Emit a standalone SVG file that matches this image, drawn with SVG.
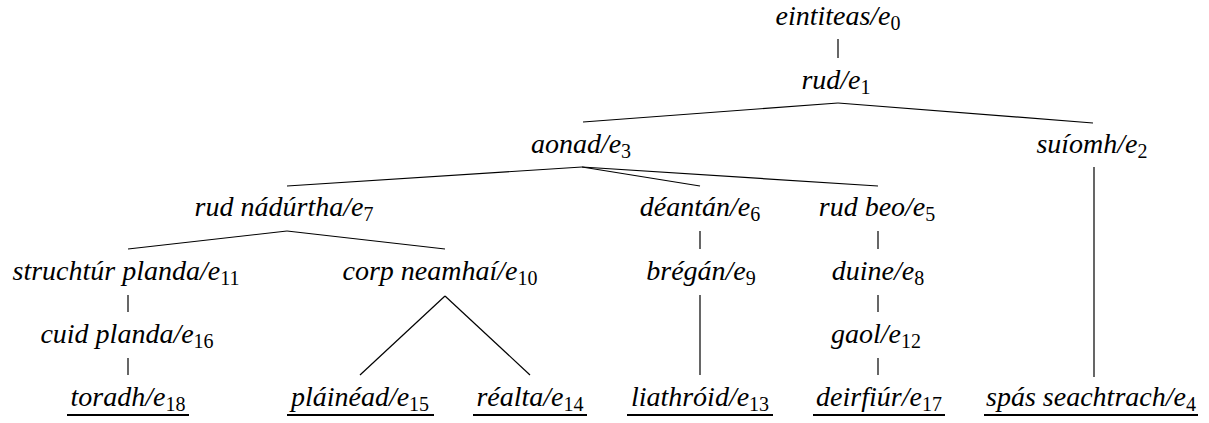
<svg xmlns="http://www.w3.org/2000/svg" width="1209" height="423" viewBox="0 0 1209 423">
<rect width="1209" height="423" fill="#fff"/>
<g id="connectors" stroke="#000" stroke-width="1.2">
<line x1="838" y1="39" x2="838" y2="58"/>
<line x1="838" y1="103" x2="583" y2="122"/>
<line x1="838" y1="103" x2="1093" y2="123"/>
<line x1="582" y1="167" x2="287" y2="186"/>
<line x1="582" y1="167" x2="700" y2="186"/>
<line x1="582" y1="167" x2="878" y2="186"/>
<line x1="1094" y1="167" x2="1094" y2="377"/>
<line x1="287" y1="231" x2="128" y2="249"/>
<line x1="287" y1="231" x2="445" y2="249"/>
<line x1="700" y1="231" x2="700" y2="249"/>
<line x1="878" y1="231" x2="878" y2="249"/>
<line x1="128" y1="295" x2="128" y2="312"/>
<line x1="445" y1="296" x2="360" y2="375"/>
<line x1="445" y1="296" x2="530" y2="375"/>
<line x1="700" y1="295" x2="700" y2="375"/>
<line x1="878" y1="295" x2="878" y2="312"/>
<line x1="128" y1="358" x2="128" y2="375"/>
<line x1="878" y1="358" x2="878" y2="375"/>
</g>
<g id="e0"><text font-family="'Liberation Serif', 'Times New Roman', serif" font-style="italic" font-size="28" text-anchor="middle" x="838" y="25">eintiteas/e<tspan font-style="normal" font-size="20" dy="5">0</tspan></text></g>
<g id="e1"><text font-family="'Liberation Serif', 'Times New Roman', serif" font-style="italic" font-size="28" text-anchor="middle" x="836" y="89">rud/e<tspan font-style="normal" font-size="20" dy="5">1</tspan></text></g>
<g id="e3"><text font-family="'Liberation Serif', 'Times New Roman', serif" font-style="italic" font-size="28" text-anchor="middle" x="581" y="153">aonad/e<tspan font-style="normal" font-size="20" dy="5">3</tspan></text></g>
<g id="e2"><text font-family="'Liberation Serif', 'Times New Roman', serif" font-style="italic" font-size="28" text-anchor="middle" x="1092" y="153">su&#237;omh/e<tspan font-style="normal" font-size="20" dy="5">2</tspan></text></g>
<g id="e7"><text font-family="'Liberation Serif', 'Times New Roman', serif" font-style="italic" font-size="28" text-anchor="middle" x="284" y="216">rud n&#225;d&#250;rtha/e<tspan font-style="normal" font-size="20" dy="5">7</tspan></text></g>
<g id="e6"><text font-family="'Liberation Serif', 'Times New Roman', serif" font-style="italic" font-size="28" text-anchor="middle" x="700" y="216">d&#233;ant&#225;n/e<tspan font-style="normal" font-size="20" dy="5">6</tspan></text></g>
<g id="e5"><text font-family="'Liberation Serif', 'Times New Roman', serif" font-style="italic" font-size="28" text-anchor="middle" x="877" y="216">rud beo/e<tspan font-style="normal" font-size="20" dy="5">5</tspan></text></g>
<g id="e11"><text font-family="'Liberation Serif', 'Times New Roman', serif" font-style="italic" font-size="28" text-anchor="middle" x="126" y="280">strucht&#250;r planda/e<tspan font-style="normal" font-size="20" dy="5">11</tspan></text></g>
<g id="e10"><text font-family="'Liberation Serif', 'Times New Roman', serif" font-style="italic" font-size="28" text-anchor="middle" x="440" y="280">corp neamha&#237;/e<tspan font-style="normal" font-size="20" dy="5">10</tspan></text></g>
<g id="e9"><text font-family="'Liberation Serif', 'Times New Roman', serif" font-style="italic" font-size="28" text-anchor="middle" x="701" y="280">br&#233;g&#225;n/e<tspan font-style="normal" font-size="20" dy="5">9</tspan></text></g>
<g id="e8"><text font-family="'Liberation Serif', 'Times New Roman', serif" font-style="italic" font-size="28" text-anchor="middle" x="878" y="280">duine/e<tspan font-style="normal" font-size="20" dy="5">8</tspan></text></g>
<g id="e16"><text font-family="'Liberation Serif', 'Times New Roman', serif" font-style="italic" font-size="28" text-anchor="middle" x="127" y="343">cuid planda/e<tspan font-style="normal" font-size="20" dy="5">16</tspan></text></g>
<g id="e12"><text font-family="'Liberation Serif', 'Times New Roman', serif" font-style="italic" font-size="28" text-anchor="middle" x="876" y="343">gaol/e<tspan font-style="normal" font-size="20" dy="5">12</tspan></text></g>
<g id="e18"><text font-family="'Liberation Serif', 'Times New Roman', serif" font-style="italic" font-size="28" text-anchor="middle" x="128" y="406">toradh/e<tspan font-style="normal" font-size="20" dy="5">18</tspan></text><line stroke="#000" stroke-width="2" x1="67" y1="415" x2="189" y2="415"/></g>
<g id="e15"><text font-family="'Liberation Serif', 'Times New Roman', serif" font-style="italic" font-size="28" text-anchor="middle" x="360" y="406">pl&#225;in&#233;ad/e<tspan font-style="normal" font-size="20" dy="5">15</tspan></text><line stroke="#000" stroke-width="2" x1="287" y1="415" x2="434" y2="415"/></g>
<g id="e14"><text font-family="'Liberation Serif', 'Times New Roman', serif" font-style="italic" font-size="28" text-anchor="middle" x="530" y="406">r&#233;alta/e<tspan font-style="normal" font-size="20" dy="5">14</tspan></text><line stroke="#000" stroke-width="2" x1="473" y1="415" x2="587" y2="415"/></g>
<g id="e13"><text font-family="'Liberation Serif', 'Times New Roman', serif" font-style="italic" font-size="28" text-anchor="middle" x="700" y="406">liathr&#243;id/e<tspan font-style="normal" font-size="20" dy="5">13</tspan></text><line stroke="#000" stroke-width="2" x1="627" y1="415" x2="773" y2="415"/></g>
<g id="e17"><text font-family="'Liberation Serif', 'Times New Roman', serif" font-style="italic" font-size="28" text-anchor="middle" x="879" y="406">deirfi&#250;r/e<tspan font-style="normal" font-size="20" dy="5">17</tspan></text><line stroke="#000" stroke-width="2" x1="813" y1="415" x2="945" y2="415"/></g>
<g id="e4"><text font-family="'Liberation Serif', 'Times New Roman', serif" font-style="italic" font-size="28" text-anchor="middle" x="1091" y="406">sp&#225;s seachtrach/e<tspan font-style="normal" font-size="20" dy="5">4</tspan></text><line stroke="#000" stroke-width="2" x1="984" y1="415" x2="1198" y2="415"/></g>
</svg>
